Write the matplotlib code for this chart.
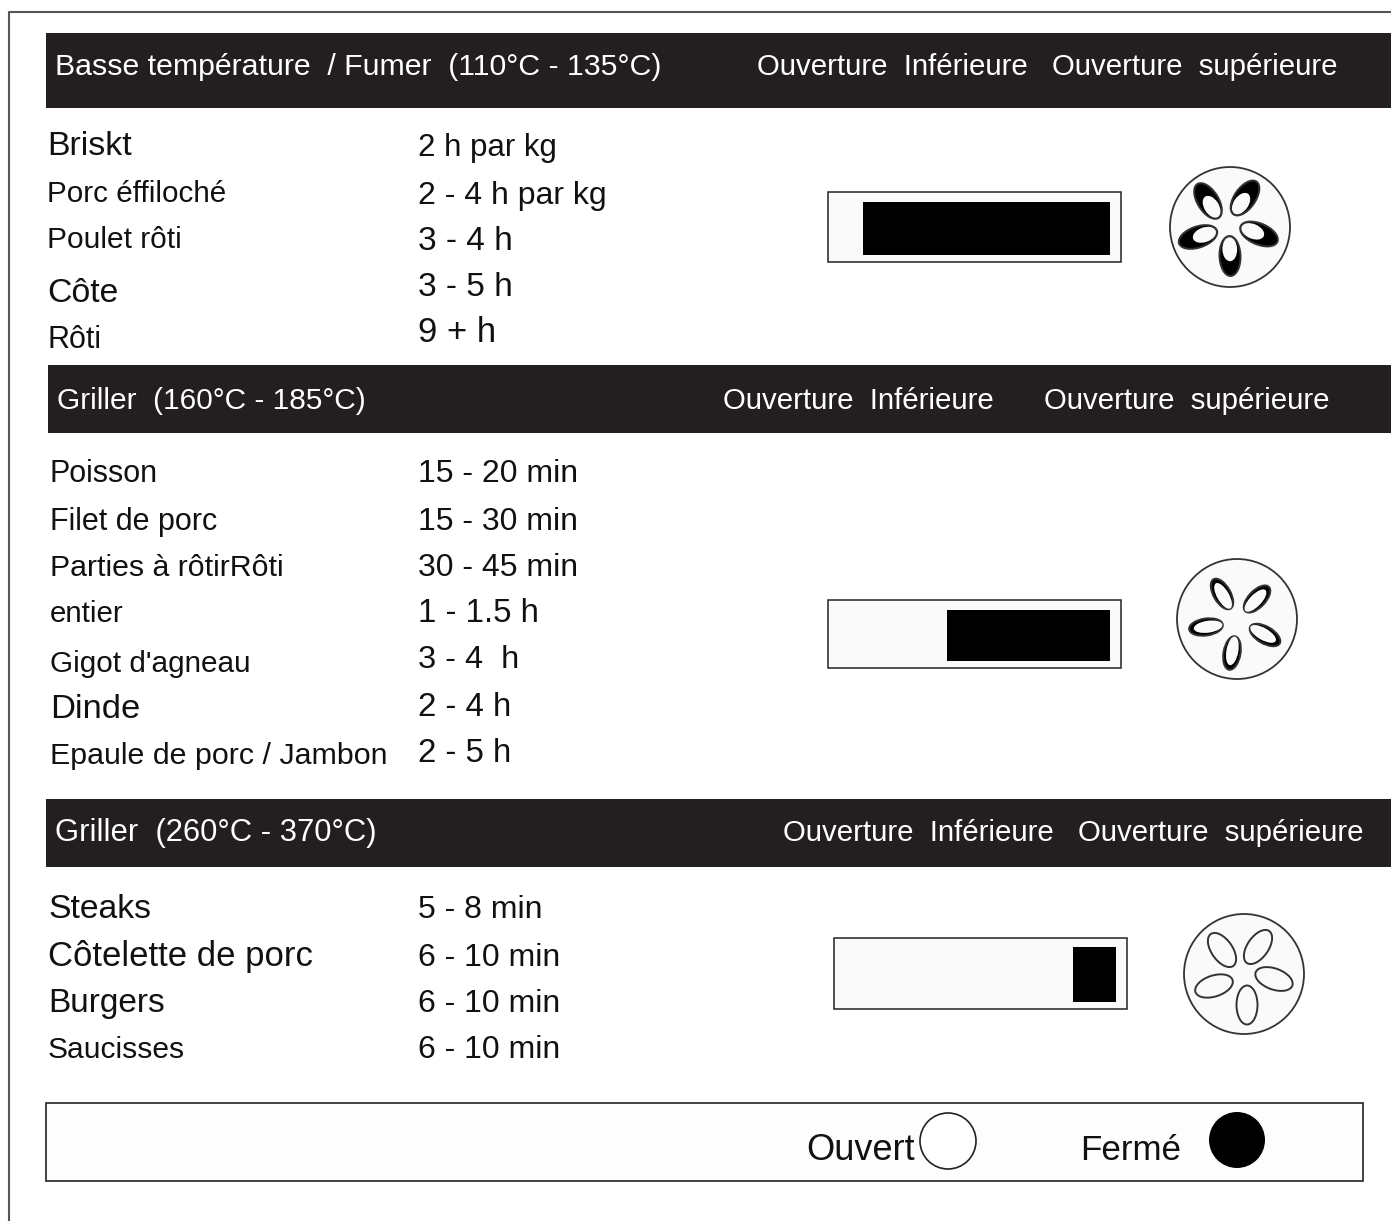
import numpy as np
import matplotlib
matplotlib.use('Agg')
import matplotlib.pyplot as plt
from matplotlib.patches import Rectangle, Circle, Ellipse

titles = ['Basse température  / Fumer  (110°C - 135°C)', 'Griller  (160°C - 185°C)', 'Griller  (260°C - 370°C)']
vent_low = 'Ouverture  Inférieure'
vent_high = 'Ouverture  supérieure'

foods_1 = ['Briskt', 'Porc éffiloché', 'Poulet rôti', 'Côte', 'Rôti']
times_1 = ['2 h par kg', '2 - 4 h par kg', '3 - 4 h', '3 - 5 h', '9 + h']
foods_2 = ['Poisson', 'Filet de porc', 'Parties à rôtirRôti', 'entier', "Gigot d'agneau", 'Dinde', 'Epaule de porc / Jambon']
times_2 = ['15 - 20 min', '15 - 30 min', '30 - 45 min', '1 - 1.5 h', '3 - 4  h', '2 - 4 h', '2 - 5 h']
foods_3 = ['Steaks', 'Côtelette de porc', 'Burgers', 'Saucisses']
times_3 = ['5 - 8 min', '6 - 10 min', '6 - 10 min', '6 - 10 min']

dial_open = [0.6, 0.85, 1.0]
legend_labels = ['Ouvert', 'Fermé']

W, H = 1391, 1221
plt.rcParams['font.family'] = ['Liberation Sans', 'DejaVu Sans']
fig = plt.figure(figsize=(W / 100, H / 100), dpi=100)
ax = fig.add_axes([0, 0, 1, 1])
ax.set_xlim(0, W)
ax.set_ylim(H, 0)
ax.axis('off')

DARK = '#231f20'
INK = '#111111'

# outer frame, only top and left are visible
ax.plot([9, 9, W], [H, 12, 12], color='#555555', lw=1.5)

bands = [(46, 33, 75), (48, 365, 68), (46, 799, 68)]
title_pos = [(55, 75), (57, 409), (55, 841)]
title_fs = [21.8, 21.5, 22.3]
low_pos = [757, 723, 783]
high_pos = [1052, 1044, 1078]
for (bx, by, bh), t, (tx, ty), tfs, lx, hx in zip(bands, titles, title_pos, title_fs, low_pos, high_pos):
    ax.add_patch(Rectangle((bx, by), W - bx, bh, color=DARK, lw=0))
    ax.text(tx, ty, t, color='white', fontsize=tfs)
    ax.text(lx, ty, vent_low, color='white', fontsize=21.2)
    ax.text(hx, ty, vent_high, color='white', fontsize=21.2)

# food rows, font sizes tuned per line since the original face is narrower
rows = [
    (foods_1, times_1, 47, [155, 202, 248, 302, 348], [156, 204, 250, 296, 342],
     [24.5, 21.3, 21.5, 24.3, 22], [22.5, 23, 24, 24, 25]),
    (foods_2, times_2, 50, [482, 530, 576, 622, 672, 718, 764], [482, 530, 576, 622, 668, 716, 762],
     [22, 22, 21.8, 21.2, 21.4, 24.8, 21.9], [23, 23, 23, 23.8, 23.4, 23.8, 23.8]),
    (foods_3, times_3, 48, [918, 966, 1012, 1058], [918, 966, 1012, 1058],
     [24.3, 25, 24, 21.6], [23, 23, 23, 23]),
]
for foods, times, fx, fy, ty, ffs, tfs in rows:
    for name, y, s in zip(foods, fy, ffs):
        ax.text(fx, y, name, color=INK, fontsize=s)
    for val, y, s in zip(times, ty, tfs):
        ax.text(418, y, val, color=INK, fontsize=s)

# slider boxes
boxes = [(828, 192, 293, 70), (828, 600, 293, 68), (834, 938, 293, 71)]
fills = [(863, 202, 247, 53), (947, 610, 163, 51), (1073, 947, 43, 55)]
for b, f in zip(boxes, fills):
    ax.add_patch(Rectangle(b[:2], b[2], b[3], fc='#fafafa', ec='#222222', lw=1.1))
    ax.add_patch(Rectangle(f[:2], f[2], f[3], color='black', lw=0))

# vent dials, the holes are not laid out the same on each one
centers = [(1230, 227), (1237, 619), (1244, 974)]
holes = [
    [(-22, -26, 58), (15, -29, 125), (29, 7, 23), (0, 29, 88), (-32, 10, -19)],
    [(-15, -25, 60), (20, -20, 134), (28, 16, 30), (-5, 34, 100), (-31, 8, -8)],
    [(-22, -24, 55), (14, -27, 125), (30, 5, 20), (3, 31, 90), (-30, 12, -18)],
]
sizes = [(20, 10.5), (17, 8.5), (19.5, 10.5)]
for (cx, cy), op, hs, (A, B) in zip(centers, dial_open, holes, sizes):
    ax.add_patch(Circle((cx, cy), 60, fc='#fafafa', ec='#333333', lw=1.3))
    for dx, dy, ang in hs:
        x, y = cx + dx, cy + dy
        ax.add_patch(Ellipse((x, y), 2 * A, 2 * B, angle=ang, fc='black' if op < 1 else '#fafafa',
                             ec='#333333', lw=1.4))
        if op < 1:
            u = np.array([np.cos(np.radians(ang)), np.sin(np.radians(ang))])
            if u @ np.array([dx, dy]) > 0:
                u = -u
            ox, oy = u * A * (1 - op) * 0.85
            ax.add_patch(Ellipse((x + ox, y + oy), 2 * A * op, 2 * B * 0.7, angle=ang, fc='#fafafa', lw=0))

# legend
ax.add_patch(Rectangle((46, 1103), 1317, 78, fc='#fdfdfd', ec='#222222', lw=1.2))
ax.text(806, 1160, legend_labels[0], color=INK, fontsize=26)
ax.text(1080, 1160, legend_labels[1], color=INK, fontsize=25.2)
ax.add_patch(Circle((948, 1141), 28, fc='white', ec='#222222', lw=1.2))
ax.add_patch(Circle((1237, 1140), 28, color='black', lw=0))

fig.savefig('out.png', dpi=100)
